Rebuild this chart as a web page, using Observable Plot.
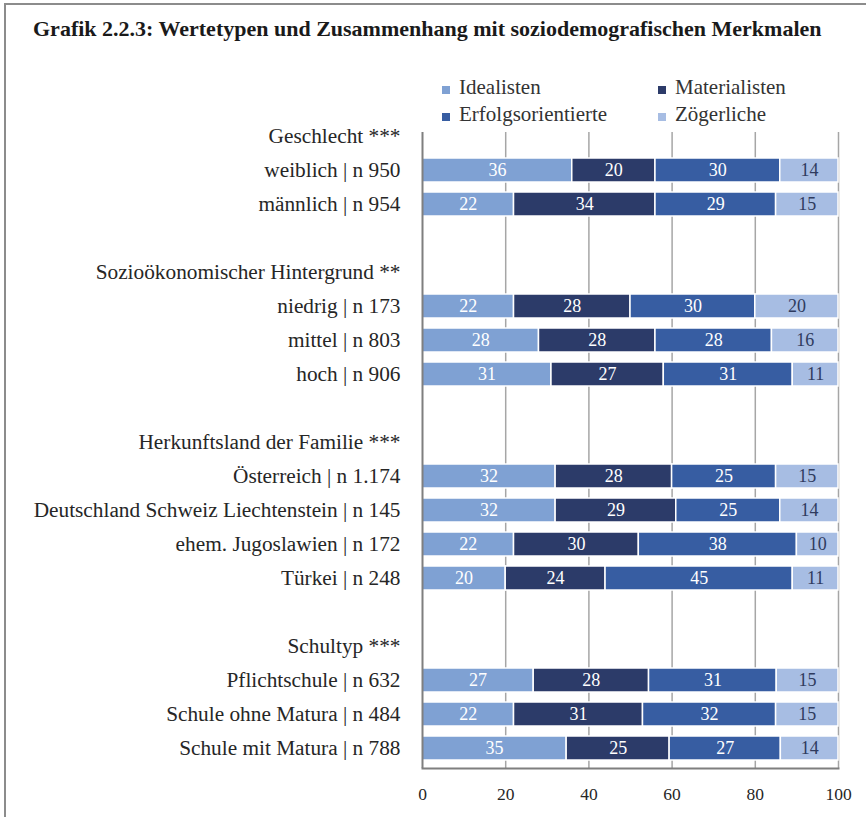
<!DOCTYPE html>
<html>
<head>
<meta charset="utf-8">
<script src="https://cdn.jsdelivr.net/npm/d3@7"></script>
<script src="https://cdn.jsdelivr.net/npm/@observablehq/plot@0.6"></script>
<style>
  html, body { margin: 0; padding: 0; background: #fff; }
  #wrap { position: relative; width: 866px; height: 817px; overflow: hidden; font-family: "Liberation Serif", serif; }
  #border { position: absolute; left: 4px; top: 3px; right: -10px; bottom: -10px; border-top: 2px solid #8c8c8c; border-left: 2px solid #8c8c8c; }
  #title { position: absolute; left: 33px; top: 16px; font-size: 22px; font-weight: bold; color: #1a1a1a; white-space: nowrap; }
  .leg { position: absolute; font-size: 21px; color: #333; white-space: nowrap; line-height: 1; }
  .sw { position: absolute; width: 8px; height: 8px; }
  #chart { position: absolute; left: 0; top: 0; }
</style>
</head>
<body>
<div id="wrap">
  <div id="border"></div>
  <div id="title">Grafik 2.2.3: Wertetypen und Zusammenhang mit soziodemografischen Merkmalen</div>
  <div id="legend"></div>
  <div id="chart"></div>
</div>
<script>
const rowLabels = [
  "Geschlecht ***", "weiblich | n 950", "männlich | n 954", "_1",
  "Sozioökonomischer Hintergrund **", "niedrig | n 173", "mittel | n 803", "hoch | n 906", "_2",
  "Herkunftsland der Familie ***", "Österreich | n 1.174", "Deutschland Schweiz Liechtenstein | n 145",
  "ehem. Jugoslawien | n 172", "Türkei | n 248", "_3",
  "Schultyp ***", "Pflichtschule | n 632", "Schule ohne Matura | n 484", "Schule mit Matura | n 788"
];
const categories = [
  "weiblich | n 950", "männlich | n 954",
  "niedrig | n 173", "mittel | n 803", "hoch | n 906",
  "Österreich | n 1.174", "Deutschland Schweiz Liechtenstein | n 145", "ehem. Jugoslawien | n 172", "Türkei | n 248",
  "Pflichtschule | n 632", "Schule ohne Matura | n 484", "Schule mit Matura | n 788"
];
const seriesNames = ["Idealisten", "Materialisten", "Erfolgsorientierte", "Zögerliche"];
const seriesColors = ["#7fa1d3", "#2c3b69", "#375da2", "#a7bde3"];
const idealisten         = [36, 22, 22, 28, 31, 32, 32, 22, 20, 27, 22, 35];
const materialisten      = [20, 34, 28, 28, 27, 28, 29, 30, 24, 28, 31, 25];
const erfolgsorientierte = [30, 29, 30, 28, 31, 25, 25, 38, 45, 31, 32, 27];
const zoegerliche        = [14, 15, 20, 16, 11, 15, 14, 10, 11, 15, 15, 14];
const xTicks = [0, 0.2, 0.4, 0.6, 0.8, 1];

const seriesValues = [idealisten, materialisten, erfolgsorientierte, zoegerliche];
const data = [];
categories.forEach((c, i) => {
  seriesNames.forEach((s, j) => data.push({row: c, series: s, value: seriesValues[j][i]}));
});

// legend (2 x 2)
const legend = document.getElementById("legend");
const legPos = [[442, 86], [658, 86], [442, 113], [658, 113]];
seriesNames.forEach((s, j) => {
  const sw = document.createElement("div");
  sw.className = "sw";
  sw.style.left = legPos[j][0] + "px";
  sw.style.top = legPos[j][1] + "px";
  sw.style.background = seriesColors[j];
  legend.appendChild(sw);
  const t = document.createElement("div");
  t.className = "leg";
  t.style.left = (legPos[j][0] + 17) + "px";
  t.style.top = (legPos[j][1] - 9) + "px";
  t.textContent = s;
  legend.appendChild(t);
});

const chart = Plot.plot({
  width: 866,
  height: 817,
  marginLeft: 422,
  marginRight: 28,
  marginTop: 132,
  marginBottom: 49,
  style: {fontFamily: "Liberation Serif, serif", background: "transparent", overflow: "visible"},
  x: {domain: [0, 1]},
  y: {domain: rowLabels, range: [116, 768], paddingInner: 0.3, paddingOuter: 0.15},
  color: {domain: seriesNames, range: seriesColors},
  marks: [
    Plot.ruleX(xTicks.slice(1), {stroke: "#a6a6a6", strokeWidth: 1.5}),
    Plot.barX(data, Plot.stackX({x: "value", y: "row", fill: "series", offset: "normalize", stroke: "white", strokeWidth: 1.5})),
    Plot.text(data, Plot.stackX({
      x: "value", y: "row", z: "series", offset: "normalize", text: "value",
      fill: d => d.series === "Zögerliche" ? "#2f3b5e" : "white",
      fontSize: 18
    })),
    Plot.ruleX([0], {stroke: "#7f7f7f", strokeWidth: 2}),
    Plot.frame({anchor: "bottom", stroke: "#7f7f7f", strokeWidth: 2}),
    Plot.axisY({tickSize: 0, tickPadding: 22, fontSize: 21.3, fill: "#262626", label: null,
      tickFormat: d => d.startsWith("_") ? "" : d}),
    Plot.axisX({ticks: xTicks, tickSize: 0, tickPadding: 19, fontSize: 17.5, fill: "#262626", label: null,
      tickFormat: d => Math.round(d * 100)})
  ]
});
document.getElementById("chart").appendChild(chart);
</script>
</body>
</html>
